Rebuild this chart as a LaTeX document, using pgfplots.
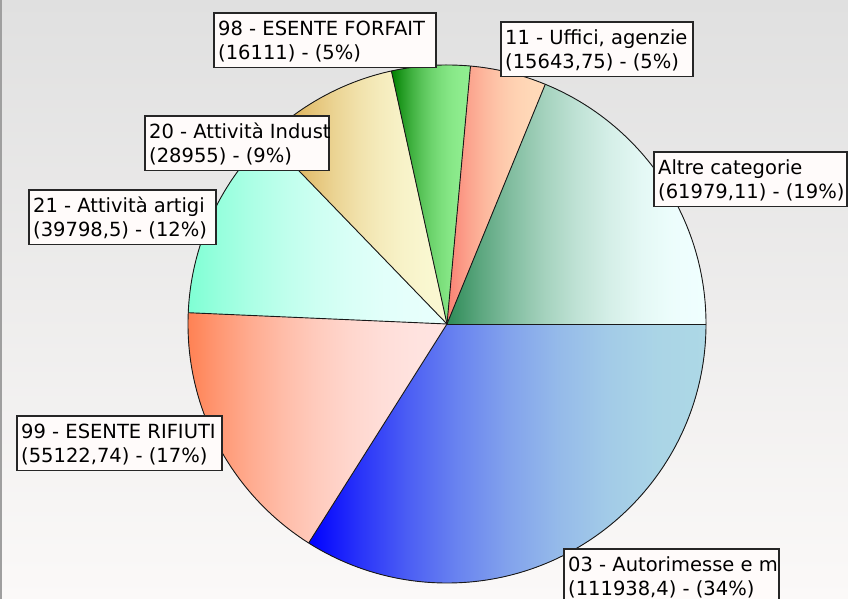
\documentclass[border=0pt]{standalone}
\usepackage{pgfplots}
\pgfplotsset{compat=1.18}
\usepackage{pgfplotstable}
\usepackage{fontspec}
\setmainfont{DejaVu Sans}

\definecolor{bgtop}{RGB}{224,224,224}
\definecolor{bgbot}{RGB}{251,249,248}
\definecolor{boxfill}{RGB}{255,251,250}
% slice colours (left -> right gradient), in table order
\definecolor{sl0}{RGB}{0,0,255}     \definecolor{sr0}{RGB}{173,216,230}
\definecolor{sl1}{RGB}{255,127,80}  \definecolor{sr1}{RGB}{255,228,225}
\definecolor{sl2}{RGB}{127,255,212} \definecolor{sr2}{RGB}{232,255,252}
\definecolor{sl3}{RGB}{212,155,50}  \definecolor{sr3}{RGB}{250,248,210}
\definecolor{sl4}{RGB}{0,128,0}     \definecolor{sr4}{RGB}{144,238,144}
\definecolor{sl5}{RGB}{250,128,114} \definecolor{sr5}{RGB}{255,218,185}
\definecolor{sl6}{RGB}{46,139,87}   \definecolor{sr6}{RGB}{240,255,255}

% ease-out gradient: s = 1-(1-t)^2, path bbox maps to 25bp..75bp
\newcommand\mkshade[1]{%
  \pgfdeclarehorizontalshading{pie#1}{100bp}{%
    color(0bp)=(sl#1); color(25bp)=(sl#1);
    color(31.25bp)=(sr#1!23.4!sl#1);
    color(37.5bp)=(sr#1!43.75!sl#1);
    color(43.75bp)=(sr#1!60.9!sl#1);
    color(50bp)=(sr#1!75!sl#1);
    color(56.25bp)=(sr#1!85.9!sl#1);
    color(62.5bp)=(sr#1!93.75!sl#1);
    color(68.75bp)=(sr#1!98.4!sl#1);
    color(75bp)=(sr#1); color(100bp)=(sr#1)}}
\mkshade{0}\mkshade{1}\mkshade{2}\mkshade{3}\mkshade{4}\mkshade{5}\mkshade{6}

\pgfplotstableread{
code value
03 111938.4
99 55122.74
21 39798.5
20 28955
98 16111
11 15643.75
AC 61979.11
}\pietable

% centre and radius of the pie (axis units = pt)
\def\cx{447}\def\cy{275}\def\rr{259}

\def\pietotal{0}
\pgfplotstableforeachcolumnelement{value}\of\pietable\as\v{%
  \xdef\pietotal{\fpeval{\pietotal+\v}}}
\def\astart{0}
\pgfplotstableforeachcolumnelement{value}\of\pietable\as\v{%
  \xdef\aend{\fpeval{\astart-360*\v/\pietotal}}%
  \expandafter\xdef\csname pieS\pgfplotstablerow\endcsname{\astart}%
  \expandafter\xdef\csname pieE\pgfplotstablerow\endcsname{\aend}%
  \expandafter\xdef\csname pieX\pgfplotstablerow\endcsname{\fpeval{\cx+\rr*cosd(\astart)}}%
  \expandafter\xdef\csname pieY\pgfplotstablerow\endcsname{\fpeval{\cy+\rr*sind(\astart)}}%
  \xdef\astart{\aend}}

\newcommand\lblfont{\fontsize{19.5}{23}\selectfont}
% #1 left, #2 top (axis y), #3 right, #4 line 1, #5 line 2
\newcommand\pielabel[5]{%
  \edef\tmp{\noexpand\draw[fill=boxfill, line width=1.2pt, draw=black!85]
    (axis cs:#1,#2) rectangle (axis cs:#3,\fpeval{#2-54.5});
    \noexpand\node[anchor=base west, inner sep=0pt, font=\noexpand\lblfont]
    at (axis cs:\fpeval{#1+4},\fpeval{#2-23}) {\unexpanded{#4}};
    \noexpand\node[anchor=base west, inner sep=0pt, font=\noexpand\lblfont]
    at (axis cs:\fpeval{#1+4},\fpeval{#2-46.5}) {\unexpanded{#5}};}\tmp}

\begin{document}
\begin{tikzpicture}
\begin{axis}[name=ax, at={(0,0)}, anchor=south west,
  width=848pt, height=599pt, scale only axis,
  xmin=0, xmax=848, ymin=0, ymax=599, enlargelimits=false,
  hide axis]
\fill[top color=bgtop, bottom color=bgbot] (axis cs:0,0) rectangle (axis cs:848,599);
\fill[gray!75] (axis cs:0,0) rectangle (axis cs:2,599);
\pgfplotsinvokeforeach{0,...,6}{%
  \edef\tmp{\noexpand\fill[shading=pie#1]
    (axis cs:\cx,\cy) -- (axis cs:\csname pieX#1\endcsname,\csname pieY#1\endcsname)
    arc[start angle=\csname pieS#1\endcsname, end angle=\csname pieE#1\endcsname, radius=\rr pt] -- cycle;}\tmp
}
\pgfplotsinvokeforeach{0,...,6}{%
  \edef\tmp{\noexpand\draw[black!90, line width=0.9pt]
    (axis cs:\cx,\cy) -- (axis cs:\csname pieX#1\endcsname,\csname pieY#1\endcsname);}\tmp
}
\draw[black!90, line width=0.9pt] (axis cs:\cx,\cy) circle[radius=\rr pt];

\pielabel{214}{586}{436}{98 - ESENTE FORFAIT}{(16111) - (5\%)}
\pielabel{501}{577}{693}{11 - Uffici, agenzie}{(15643,75) - (5\%)}
\pielabel{145}{483}{329}{20 - Attività Indust}{(28955) - (9\%)}
\pielabel{29}{409}{216}{21 - Attività artigi}{(39798,5) - (12\%)}
\pielabel{654}{447}{847}{Altre categorie}{(61979,11) - (19\%)}
\pielabel{17}{183}{222}{99 - ESENTE RIFIUTI}{(55122,74) - (17\%)}
\pielabel{564}{50}{779}{03 - Autorimesse e m}{(111938,4) - (34\%)}
\end{axis}
\pgfresetboundingbox
\path[use as bounding box] (ax.south west) rectangle (ax.north east);
\end{tikzpicture}
\end{document}
